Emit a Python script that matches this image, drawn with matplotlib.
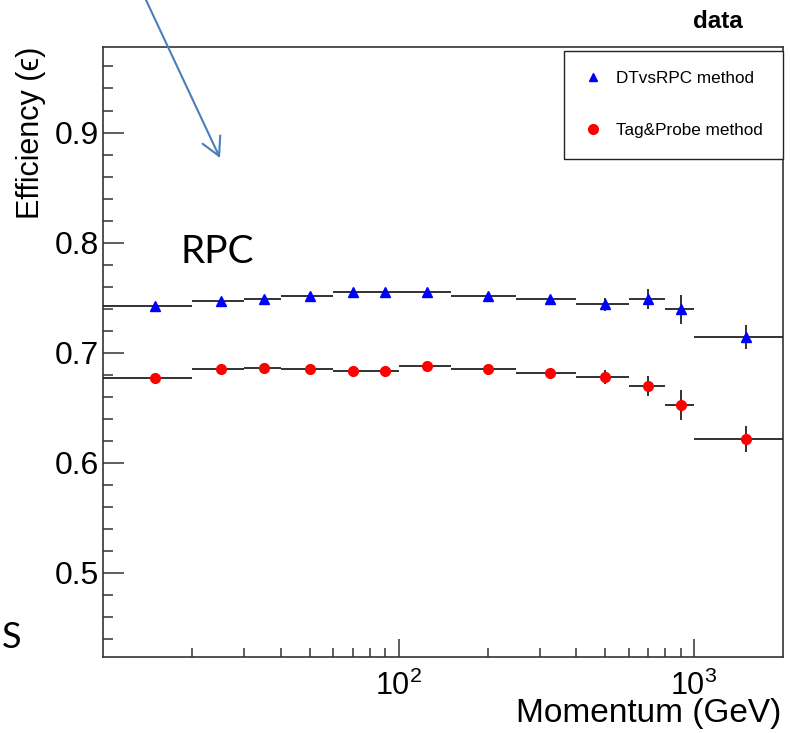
import matplotlib.pyplot as plt
import numpy as np
from matplotlib.lines import Line2D
from matplotlib.ticker import FixedLocator, FixedFormatter, NullFormatter

plt.rcParams['font.family'] = ['Liberation Sans', 'DejaVu Sans']
plt.rcParams['mathtext.fontset'] = 'custom'
plt.rcParams['mathtext.rm'] = 'Liberation Sans'
plt.rcParams['mathtext.default'] = 'regular'

# momentum bins (GeV)
bin_edges = np.array([10, 20, 30, 40, 60, 80, 100, 150, 250, 400, 600, 800, 1000, 2000])
momentum = np.array([15, 25, 35, 50, 70, 90, 125, 200, 325, 500, 700, 900, 1500])

eff_dt_rpc = [0.7425, 0.747, 0.749, 0.7516, 0.7552, 0.755, 0.7547,
              0.7516, 0.7483, 0.744, 0.7483, 0.7392, 0.7138]
err_dt_rpc = [0.002, 0.002, 0.002, 0.002, 0.002, 0.002, 0.002,
              0.002, 0.003, 0.006, 0.009, 0.013, 0.011]

eff_tag_probe = [0.6766, 0.6847, 0.6857, 0.6847, 0.6835, 0.6835, 0.688,
                 0.685, 0.6811, 0.6775, 0.6696, 0.6523, 0.6214]
err_tag_probe = [0.002, 0.002, 0.002, 0.002, 0.002, 0.002, 0.002,
                 0.002, 0.003, 0.0065, 0.0095, 0.014, 0.012]

xerr = [momentum - bin_edges[:-1], bin_edges[1:] - momentum]

fig = plt.figure(figsize=(7.9, 7.33), dpi=100)
ax = fig.add_axes([0.1304, 0.1033, 0.8608, 0.833])

ax.errorbar(momentum, eff_dt_rpc, xerr=xerr, yerr=err_dt_rpc, fmt='^',
            color='blue', mec='blue', ms=7, ecolor='#222222',
            elinewidth=1.3, capsize=0, zorder=3)
ax.errorbar(momentum, eff_tag_probe, xerr=xerr, yerr=err_tag_probe, fmt='o',
            color='red', mec='red', ms=7, ecolor='#222222',
            elinewidth=1.3, capsize=0, zorder=3)

ax.set_xscale('log')
ax.set_xlim(10, 2000)
ax.set_ylim(0.423, 0.978)

ax.xaxis.set_major_locator(FixedLocator([100, 1000]))
ax.xaxis.set_major_formatter(FixedFormatter([r'$10^{2}$', r'$10^{3}$']))
ax.xaxis.set_minor_locator(FixedLocator([20, 30, 40, 50, 60, 70, 80, 90,
                                         200, 300, 400, 500, 600, 700, 800, 900]))
ax.xaxis.set_minor_formatter(NullFormatter())

ax.set_yticks([0.5, 0.6, 0.7, 0.8, 0.9])
ax.set_yticklabels(['0.5', '0.6', '0.7', '0.8', '0.9'])
ax.yaxis.set_minor_locator(FixedLocator(np.arange(0.44, 0.98, 0.02)))

ax.tick_params(axis='y', which='major', direction='in', length=15, width=1.1,
               labelsize=23, pad=3, color='#333333')
ax.tick_params(axis='y', which='minor', direction='in', length=7, width=1.1,
               color='#333333')
ax.tick_params(axis='x', which='major', direction='in', length=13, width=1.1,
               labelsize=22, pad=10, color='#333333')
ax.tick_params(axis='x', which='minor', direction='in', length=6.5, width=1.1,
               color='#333333')

for s in ax.spines.values():
    s.set_color('#333333')
    s.set_linewidth(1.2)

ax.set_ylabel('Efficiency (\u03f5)', fontsize=22, loc='top', labelpad=6)
ax.set_xlabel('Momentum (GeV)', fontsize=24, loc='right')
ax.xaxis.set_label_coords(0.997, -0.066)

handles = [Line2D([], [], ls='none', marker='^', color='blue', ms=6),
           Line2D([], [], ls='none', marker='o', color='red', ms=7)]
leg = ax.legend(handles, ['DTvsRPC method', 'Tag&Probe method'],
                loc='upper left', bbox_to_anchor=(0.678, 0.993, 0.322, 0.0),
                mode='expand', fontsize=12.3, frameon=True, fancybox=False,
                framealpha=1, edgecolor='#222222', borderpad=1.2,
                labelspacing=2.15, handlelength=1.0, handletextpad=0.85,
                borderaxespad=0)
leg.get_frame().set_linewidth(1.0)

fig.text(718 / 790, 1 - 21 / 733, 'data', fontsize=17.5, fontweight='bold',
         ha='center', va='center')

fig.text(180 / 790, 1 - 263 / 733, 'RPC', fontsize=28, family='Lato',
         ha='left', va='baseline')
fig.text(2 / 790, 1 - 648 / 733, 'S', fontsize=26, family='Lato',
         ha='left', va='baseline')

ax.annotate('', xy=(220 / 790, 1 - 158 / 733), xytext=(146 / 790, 1.0),
            xycoords='figure fraction', textcoords='figure fraction',
            annotation_clip=False,
            arrowprops=dict(arrowstyle='->, head_length=1.3, head_width=0.7',
                            color='#4A7EBB', lw=1.5, mutation_scale=10,
                            shrinkA=0, shrinkB=0))

fig.savefig('out.png', dpi=100)
